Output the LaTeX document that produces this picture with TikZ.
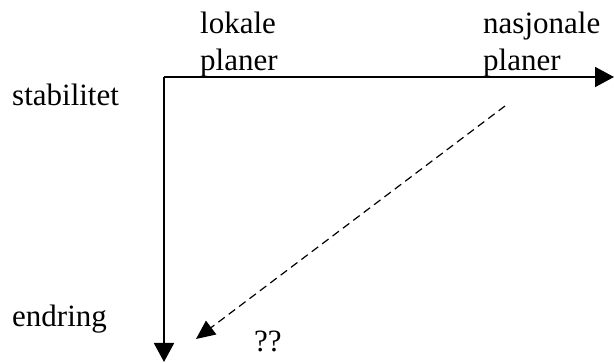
\documentclass[tikz,border=0pt]{standalone}
\usepackage{fontspec}
\setmainfont{Liberation Serif}
\usetikzlibrary{arrows.meta}

\begin{document}
\begin{tikzpicture}[
  x=1pt, y=-1pt,
  axis/.style={-{Triangle[length=19pt, width=20pt]}, line width=1.9pt},
  trend/.style={-{Triangle[length=19pt, width=17pt]}, line width=1.2pt,
                dash pattern=on 8pt off 5pt},
  lbl/.style={inner sep=0pt, anchor=base west, align=left,
              font=\fontsize{31}{37}\selectfont},
]
\useasboundingbox (0,0) rectangle (614,363);

% Axes
\coordinate (orig) at (164,77);
\coordinate (xend) at (614,77);
\coordinate (yend) at (164,362);
\draw[axis] (orig) -- (xend);
\draw[axis] (orig) -- (yend);

% Labels along the top (base = last line)
\node[lbl] (lokal) at (200,71) {lokale\\planer};
\node[lbl] (nasj)  at (483,71) {nasjonale\\planer};

% Labels along the side
\node[lbl] (stab) at (12,106) {stabilitet};
\node[lbl] (endr) at (12,327) {endring};
\node[lbl] (qq)   at (254,352) {??};

% Dashed move
\coordinate (from) at (505,106);
\coordinate (to)   at (196,339);
\draw[trend] (from) -- (to);
\end{tikzpicture}
\end{document}
